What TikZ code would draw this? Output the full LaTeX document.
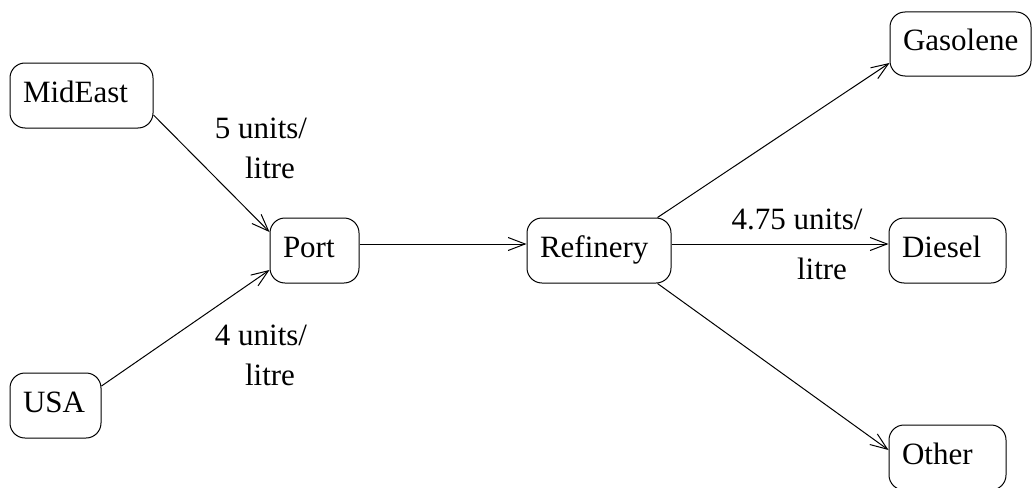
\documentclass[tikz,border=0pt]{standalone}
\usepackage{fontspec}
\setmainfont{Liberation Serif}
\usetikzlibrary{arrows.meta,calc}
\begin{document}
\begin{tikzpicture}[x=1pt,y=-1pt,
  box/.style={draw, line width=1pt, rounded corners=15pt, inner xsep=13pt, inner ysep=0pt,
    minimum height=65pt, align=left, text height=20pt, text depth=6pt,
    font=\fontsize{31}{37}\selectfont},
  conn/.style={line width=1pt, -{Straight Barb[length=17pt,width=13pt,line width=1pt]}},
  lab/.style={font=\fontsize{31}{37}\selectfont, inner sep=0pt, text height=20pt, text depth=6pt}]
\useasboundingbox (0,0) rectangle (1032,487);
\node[box, text width=117pt] (mid) at (81.5,95.5) {MidEast};
\node[box, text width=65pt] (usa) at (55.5,405.5) {USA};
\node[box, text width=63pt] (port) at (314.5,250.5) {Port};
\node[box, text width=118pt] (ref) at (599,250.5) {Refinery};
\node[box, text width=115pt, minimum height=64pt] (gas) at (960.5,44) {Gasolene};
\node[box, text width=91pt] (die) at (947.5,250.5) {Diesel};
\node[box, text width=91pt] (oth) at (947.5,457.5) {Other};

\draw[conn] ($(mid.east)+(0,19.5)$) -- ($(port.west)+(0,-18.5)$);
\draw[conn] ($(usa.east)+(0,-19.5)$) -- ($(port.west)+(0,19.5)$);
\draw[conn] ($(port.east)+(0,-6.5)$) -- ($(ref.west)+(0,-6.5)$);
\draw[conn] ($(ref.north east)+(-14,0)$) -- ($(gas.west)+(0,19)$);
\draw[conn] ($(ref.east)+(0,-6.5)$) -- ($(die.west)+(0,-6.5)$);
\draw[conn] ($(ref.south east)+(-14,0)$) -- ($(oth.west)+(0,-7.5)$);

\node[lab] (l1a) at (261,131) {5 units/};
\node[lab] (l1b) at (270,171) {litre};
\node[lab] (l2a) at (261,338) {4 units/};
\node[lab] (l2b) at (270,378) {litre};
\node[lab] (l3a) at (797,222) {4.75 units/};
\node[lab] (l3b) at (822,272) {litre};
\end{tikzpicture}
\end{document}
